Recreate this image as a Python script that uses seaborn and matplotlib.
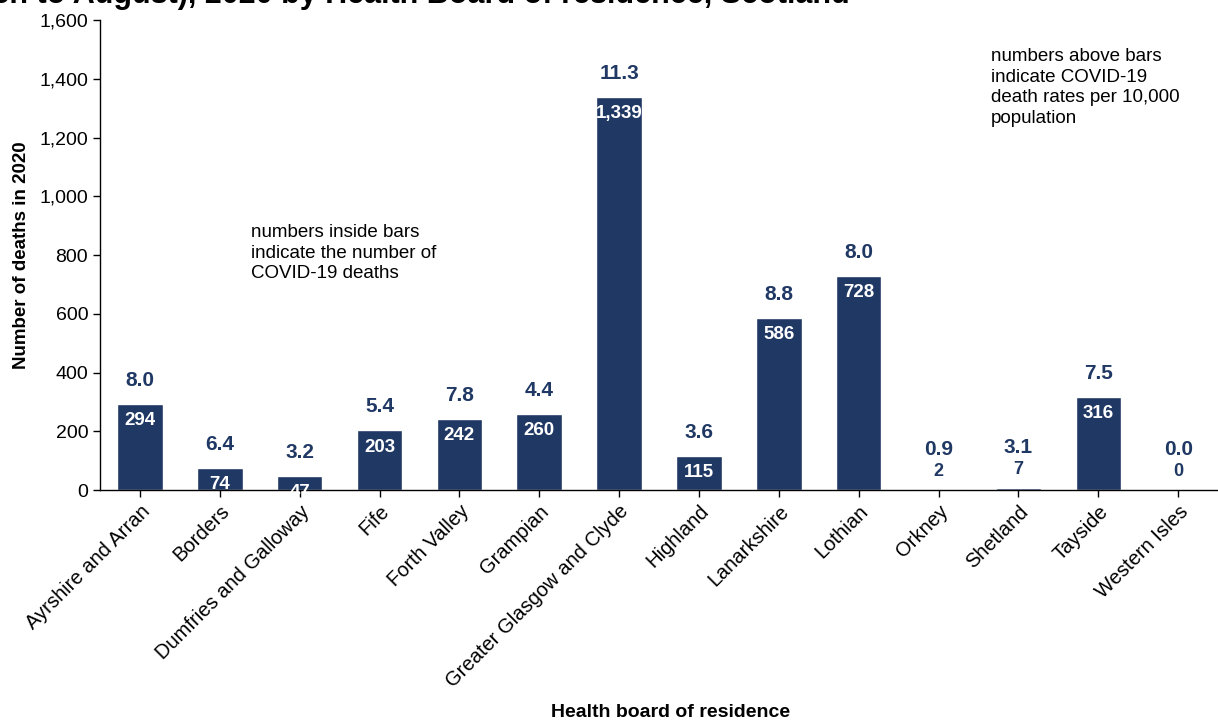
import numpy as np
import pandas as pd
import matplotlib
matplotlib.use('Agg')
import matplotlib.pyplot as plt
import seaborn as sns

boards = ['Ayrshire and Arran', 'Borders', 'Dumfries and Galloway', 'Fife', 'Forth Valley',
          'Grampian', 'Greater Glasgow and Clyde', 'Highland', 'Lanarkshire', 'Lothian',
          'Orkney', 'Shetland', 'Tayside', 'Western Isles']
deaths = [294, 74, 47, 203, 242, 260, 1339, 115, 586, 728, 2, 7, 316, 0]
rates = [8.0, 6.4, 3.2, 5.4, 7.8, 4.4, 11.3, 3.6, 8.8, 8.0, 0.9, 3.1, 7.5, 0.0]

navy = '#203864'

sns.set_style('ticks')
plt.rcParams['font.family'] = ['Liberation Sans', 'DejaVu Sans']
plt.rcParams['text.color'] = 'black'
plt.rcParams['axes.labelcolor'] = 'black'

df = pd.DataFrame({'board': boards, 'deaths': deaths})

fig = plt.figure(figsize=(12.18, 7.22), dpi=100)
ax = fig.add_axes([0.0821, 0.3213, 0.918, 0.651])
sns.barplot(data=df, x='board', y='deaths', color=navy, saturation=1, width=0.57, ax=ax)

ax.set_ylim(0, 1600)
ax.set_xlim(-0.5, len(boards) - 0.5)
ax.set_yticks(np.arange(0, 1601, 200))
ax.set_yticklabels([f'{v:,}' for v in range(0, 1601, 200)], fontsize=14)
ax.set_xticks(range(len(boards)))
ax.set_xticklabels(boards, rotation=45, ha='right', rotation_mode='anchor', fontsize=14.5)
ax.tick_params(axis='both', length=5, width=1, colors='black', labelcolor='black')
sns.despine(ax=ax)
for s in ['left', 'bottom']:
    ax.spines[s].set_color('black')
    ax.spines[s].set_linewidth(1)

ax.set_xlabel('Health board of residence', fontsize=14, fontweight='bold')
ax.set_ylabel('Number of deaths in 2020', fontsize=13.5, fontweight='bold', labelpad=7)
ax.xaxis.set_label_coords(0.51, -0.455)

for i, (d, r) in enumerate(zip(deaths, rates)):
    if d < 20:
        ax.annotate(f'{d:,}', (i, d), xytext=(0, 13), textcoords='offset points',
                    ha='center', va='center', fontsize=13, fontweight='bold', color=navy)
        ax.annotate(f'{r:.1f}', (i, d), xytext=(0, 29), textcoords='offset points',
                    ha='center', va='center', fontsize=15, fontweight='bold', color=navy)
    else:
        ax.annotate(f'{d:,}', (i, d), xytext=(0, -12), textcoords='offset points',
                    ha='center', va='center', fontsize=13.5, fontweight='bold', color='white',
                    annotation_clip=False)
        ax.annotate(f'{r:.1f}', (i, d), xytext=(0, 17), textcoords='offset points',
                    ha='center', va='center', fontsize=15, fontweight='bold', color=navy)

fig.text(251 / 1218, 1 - 224 / 722,
         'numbers inside bars\nindicate the number of\nCOVID-19 deaths',
         fontsize=13.5, va='top', ha='left', linespacing=1.27)
fig.text(991 / 1218, 1 - 48 / 722,
         'numbers above bars\nindicate COVID-19\ndeath rates per 10,000\npopulation',
         fontsize=13.5, va='top', ha='left', linespacing=1.27)

fig.text(850 / 1218, 1 - 3 / 722,
         'COVID-19 deaths (March to August), 2020 by Health Board of residence, Scotland',
         fontsize=22, fontweight='bold', ha='right', va='baseline')

fig.savefig('out.png', dpi=100)
